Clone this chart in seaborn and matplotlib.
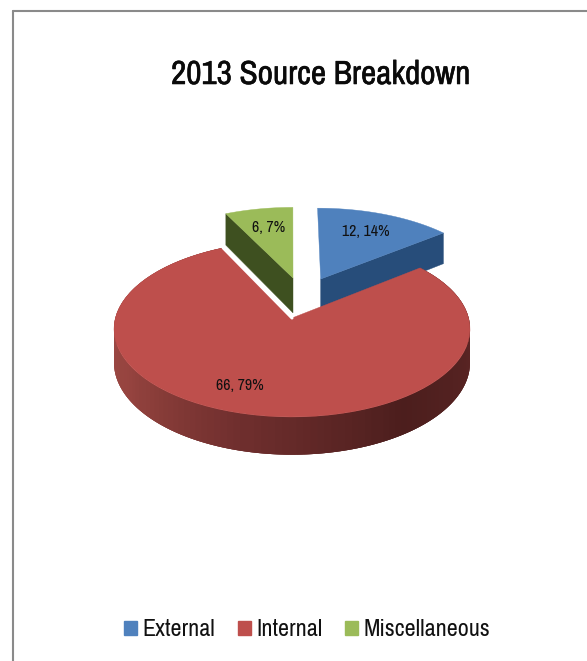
import numpy as np
import seaborn as sns
import matplotlib.pyplot as plt
import matplotlib.patheffects as pe
from matplotlib.patches import Patch

categories = ["External", "Internal", "Miscellaneous"]
values = [12, 66, 6]
chart_title = "2013 Source Breakdown"

# layout, in pixels of the 587x661 picture
CENTER_X, CENTER_Y = 292, 318
FOCAL_X, FOCAL_Y = 176.6, 86.6
PERSPECTIVE = 0.125
EXPLODE = [(0.172, 0.477), (0, 0), (0.006, 0.49)]
RADIUS = [1.03, 1.0, 1.03]
DEPTH = [35, 33, 37]
LABEL_POS = [(366, 232), (240, 385), (269, 227)]

TOP_COLORS = ["#4F81BD", "#BE4F4C", "#9BBB59"]
SIDE_COLORS = ["#274D7A", None, "#3E5020"]
RIM_STOPS = ["#5c2625", "#5a2524", "#4c1e1d", "#6e2e2d", "#96443f", "#a04b48", "#8b3f3d"]
FONT = ["Archivo Narrow", "Liberation Sans"]


def project(u, v):
    w = 1 + PERSPECTIVE * v
    return CENTER_X + FOCAL_X * u / w, CENTER_Y - FOCAL_Y * v / w


def wedge_points(i, a, b, n=80):
    t = np.radians(np.linspace(a, b, n))
    return EXPLODE[i][0] + RADIUS[i] * np.sin(t), EXPLODE[i][1] + RADIUS[i] * np.cos(t)


def depth(i, v):
    return DEPTH[i] / (1 + PERSPECTIVE * v)


def draw_top(ax, i, a, b):
    u, v = wedge_points(i, a, b)
    x, y = project(np.r_[EXPLODE[i][0], u], np.r_[EXPLODE[i][1], v])
    ax.fill(x, y, color=TOP_COLORS[i], lw=0.3, zorder=3 + (i == 1) * 3)


def draw_cut(ax, i, angle):
    # the flat cut side of a pulled out slice
    t = np.radians(angle)
    u = np.array([EXPLODE[i][0], EXPLODE[i][0] + RADIUS[i] * np.sin(t)])
    v = np.array([EXPLODE[i][1], EXPLODE[i][1] + RADIUS[i] * np.cos(t)])
    x, y = project(u, v)
    d = depth(i, v)
    ax.fill(np.r_[x, x[::-1]], np.r_[y, (y + d)[::-1]], color=SIDE_COLORS[i], lw=0.3, zorder=2)


def draw_rim(ax, i, a, b, n=140):
    edges = np.linspace(a, b, n + 1)
    shades = sns.blend_palette(RIM_STOPS, n)
    for k in range(n):
        # each piece runs on under the next one, so no seams show
        u, v = wedge_points(i, edges[k], edges[min(k + 3, n)], 6)
        x, y = project(u, v)
        yb = y + depth(i, v)
        ax.fill(np.r_[x, x[::-1]], np.r_[y, yb[::-1]], color=shades[k], lw=0, zorder=5)


sns.set_theme(style="white")
plt.rcParams["font.family"] = FONT

fig = plt.figure(figsize=(5.87, 6.61), dpi=100)
ax = fig.add_axes([0, 0, 1, 1])
ax.set_xlim(0, 587)
ax.set_ylim(661, 0)
ax.axis("off")

# clockwise from twelve o'clock
shares = 360 * np.array(values) / sum(values)
ends = np.cumsum(shares)
starts = ends - shares

draw_cut(ax, 0, ends[0])
draw_top(ax, 0, starts[0], ends[0])
draw_cut(ax, 2, starts[2])
draw_top(ax, 2, starts[2], ends[2])
draw_rim(ax, 1, starts[1], ends[1])
draw_top(ax, 1, starts[1], ends[1])

# thin white gap between the red slice and the green side
t = np.radians(ends[1])
gx, gy = project(np.array([0, np.sin(t)]), np.array([0, np.cos(t)]))
ax.plot(gx, gy, color="white", lw=2.2, zorder=7)

for i, (val, pos) in enumerate(zip(values, LABEL_POS)):
    pct = round(100 * val / sum(values))
    ax.text(pos[0], pos[1], f"{val}, {pct}%", fontsize=11.4, color="#111111",
            ha="center", va="center", zorder=8)

title = ax.text(321, 75, chart_title, fontsize=24, color="#0a0a0a", ha="center", va="center")
title.set_path_effects([pe.withStroke(linewidth=0.4, foreground="#0a0a0a")])

handles = [Patch(color=c, label=n) for c, n in zip(TOP_COLORS, categories)]
ax.legend(handles=handles, ncol=3, loc="center", bbox_to_anchor=(307 / 587, 1 - 630 / 661),
          frameon=False, fontsize=17.3, handlelength=0.54, handleheight=0.54,
          handletextpad=0.21, columnspacing=0.96, labelcolor="#111111")

# page border
ax.plot([13, 13], [661, 11], color="#8a8a8a", lw=1.5, zorder=1)
ax.plot([13, 587], [11, 11], color="#8a8a8a", lw=1.5, zorder=1)

fig.savefig("out.png", dpi=100)
